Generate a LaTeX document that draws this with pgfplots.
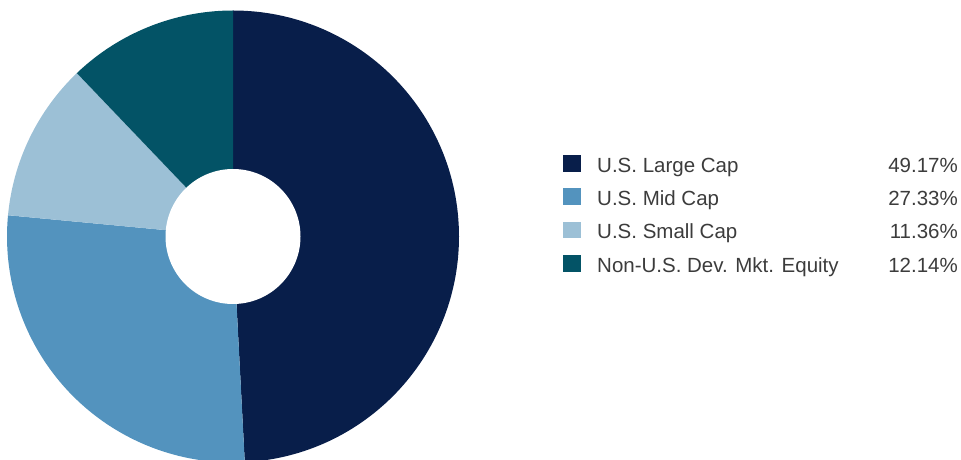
\documentclass[border=0pt]{standalone}
\usepackage{pgfplots}
\usepackage{pgfplotstable}
\pgfplotsset{compat=1.18}
\usepackage{fontspec}
\setmainfont{Liberation Sans}

\definecolor{c0}{HTML}{081E4A}
\definecolor{c1}{HTML}{5393BE}
\definecolor{c2}{HTML}{9CC0D6}
\definecolor{c3}{HTML}{035366}
\definecolor{txt}{HTML}{3C3C3C}

% allocation shares in percent
\pgfplotstableread[col sep=comma]{
label,value
U.S. Large Cap,49.17
U.S. Mid Cap,27.33
U.S. Small Cap,11.36
Non-U.S. Dev. Mkt. Equity,12.14
}\shares

\begin{document}
\begin{tikzpicture}
\begin{axis}[
    hide axis,
    scale only axis,
    width=961pt, height=460pt,
    xmin=0, xmax=961, ymin=0, ymax=460,
    clip=true,
]
\addplot[draw=none] coordinates {(0,0) (961,460)};
% donut wedges, clockwise from 12 o'clock
\def\startang{90}
\pgfplotsforeachungrouped \i in {0,...,3}{
    \pgfplotstablegetelem{\i}{value}\of\shares
    \pgfmathsetmacro\endang{\startang-3.6*\pgfplotsretval}
    \edef\temp{\noexpand\fill[c\i] (axis cs:233,223.5) -- ++(\startang:226pt)
        arc[start angle=\startang, end angle=\endang, radius=226pt] -- cycle;}
    \temp
    \let\startang\endang
}
\fill[white] (axis cs:233,223.5) circle[radius=67.5pt];
% legend
\pgfplotsforeachungrouped \i in {0,...,3}{
    \pgfplotstablegetelem{\i}{label}\of\shares
    \let\lab\pgfplotsretval
    \pgfplotstablegetelem{\i}{value}\of\shares
    \let\val\pgfplotsretval
    \pgfmathsetmacro\ytop{305-33.3*\i}
    \pgfmathsetmacro\ybot{288.3-33.3*\i}
    \pgfmathsetmacro\ybase{287.7-33.3*\i}
    \edef\temp{\noexpand\fill[c\i] (axis cs:563,\ybot) rectangle (axis cs:580.7,\ytop);
      \noexpand\node[anchor=base west, inner sep=0pt, text=txt,
        font=\noexpand\fontsize{20.5}{24}\noexpand\selectfont] at (axis cs:597,\ybase) {\lab};
      \noexpand\node[anchor=base east, inner sep=0pt, text=txt,
        font=\noexpand\fontsize{20.5}{24}\noexpand\selectfont] at (axis cs:958,\ybase) {\val\noexpand\%};}
    \temp
}
\end{axis}
\end{tikzpicture}
\end{document}
